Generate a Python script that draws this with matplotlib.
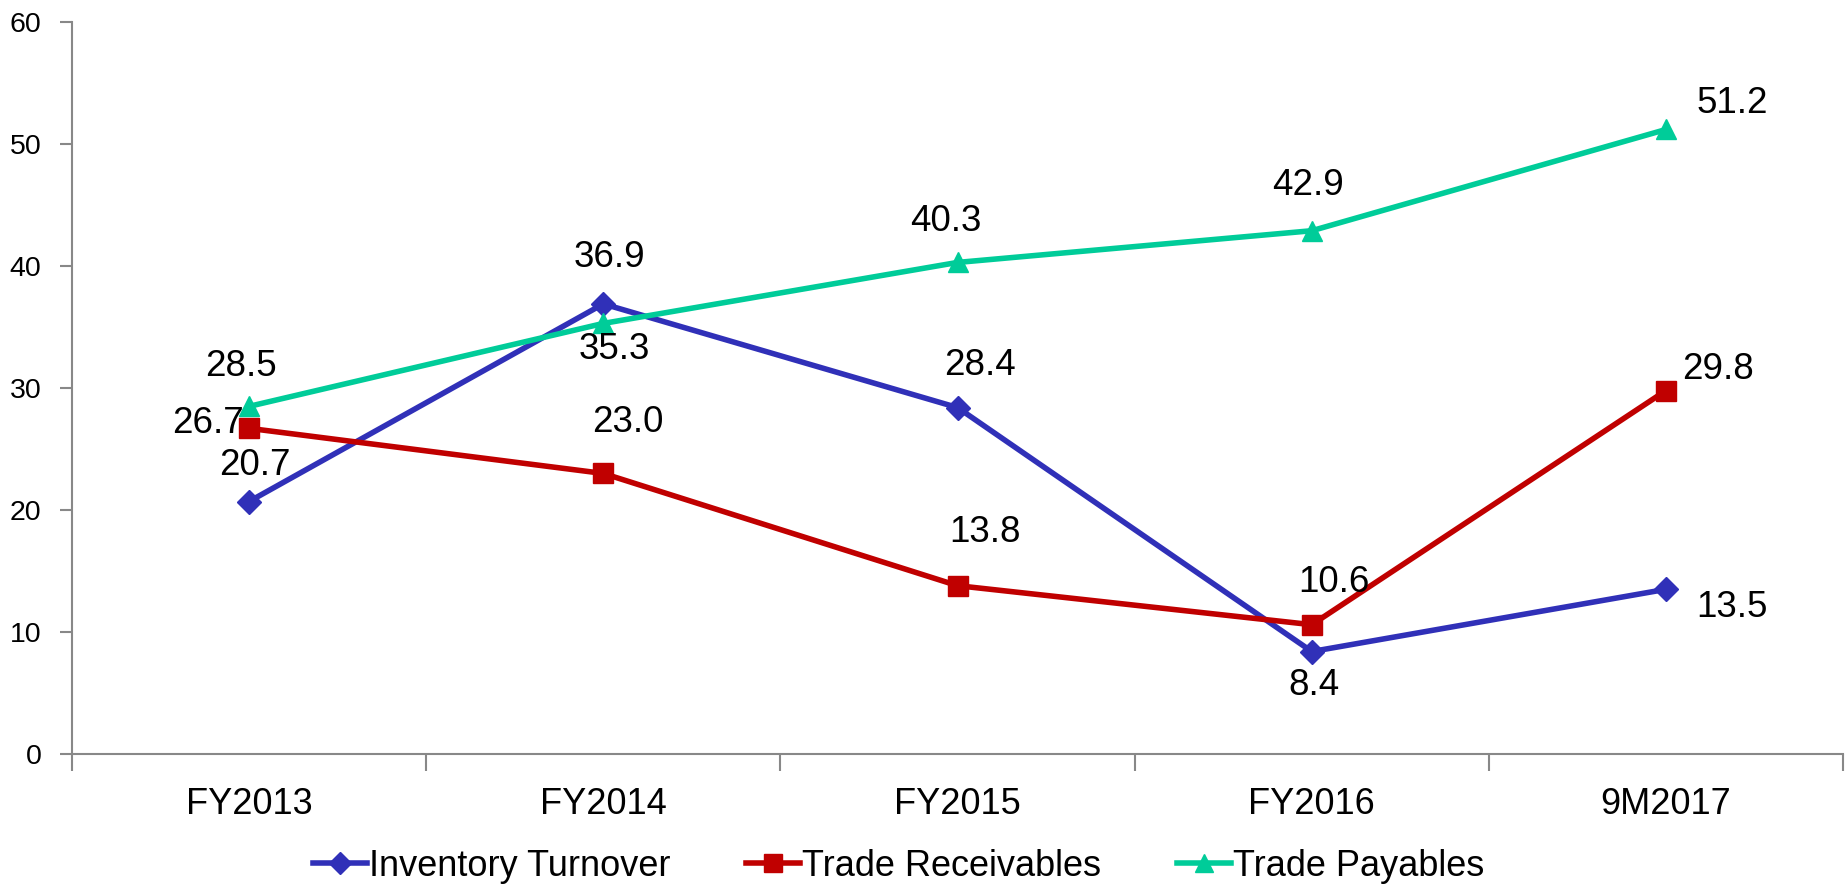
import numpy as np
import matplotlib.pyplot as plt

plt.rcParams['font.family'] = ['Liberation Sans', 'DejaVu Sans']

categories = ['FY2013', 'FY2014', 'FY2015', 'FY2016', '9M2017']
inventory = [20.7, 36.9, 28.4, 8.4, 13.5]
receivables = [26.7, 23.0, 13.8, 10.6, 29.8]
payables = [28.5, 35.3, 40.3, 42.9, 51.2]

# label offsets in pixels (dx, dy)
inv_off = [(6, 36), (6, 46), (22, 42), (2, -34), (66, -18)]
rec_off = [(-41, 5), (24, 51), (27, 53), (22, 42), (52, 21)]
pay_off = [(-8, 40), (11, -26), (-12, 41), (-4, 45), (66, 26)]

fig = plt.figure(figsize=(18.45, 8.86), dpi=100)
ax = fig.add_axes([0.039, 0.149, 0.96, 0.826])

x = np.arange(len(categories))
series = [
    (inventory, 'Inventory Turnover', '#3030B8', 'D', 12, inv_off),
    (receivables, 'Trade Receivables', '#C00000', 's', 14, rec_off),
    (payables, 'Trade Payables', '#00CC99', '^', 15, pay_off),
]
for vals, name, col, mk, ms, offs in series:
    ax.plot(x, vals, color=col, lw=4, marker=mk, markersize=ms, label=name)
    for xi, v, (dx, dy) in zip(x, vals, offs):
        ax.annotate(f'{v:.1f}', (xi, v), xytext=(dx, dy), textcoords='offset pixels',
                    ha='center', va='center', fontsize=26.5)

ax.set_xlim(-0.5, len(categories) - 0.5)
ax.set_ylim(0, 60)
ax.set_yticks(range(0, 61, 10))
ax.tick_params(axis='y', labelsize=20.5, length=9, width=1.5, color='#888888', pad=13)
ax.set_xticks(np.arange(-0.5, len(categories), 1.0))
ax.set_xticklabels([])
ax.tick_params(axis='x', which='major', length=12, width=1.5, color='#888888')
ax.set_xticks(x, minor=True)
ax.set_xticklabels(categories, minor=True, fontsize=26)
ax.tick_params(axis='x', which='minor', length=0, pad=24)

for s in ['top', 'right']:
    ax.spines[s].set_visible(False)
for s in ['left', 'bottom']:
    ax.spines[s].set_color('#888888')
    ax.spines[s].set_linewidth(1.5)

fig.legend(loc='center', bbox_to_anchor=(0.487, 0.022), ncol=3, frameon=False,
           fontsize=26, handlelength=1.5, handletextpad=0.05, columnspacing=2.1,
           markerscale=0.9)

fig.savefig('out.png', dpi=100)
